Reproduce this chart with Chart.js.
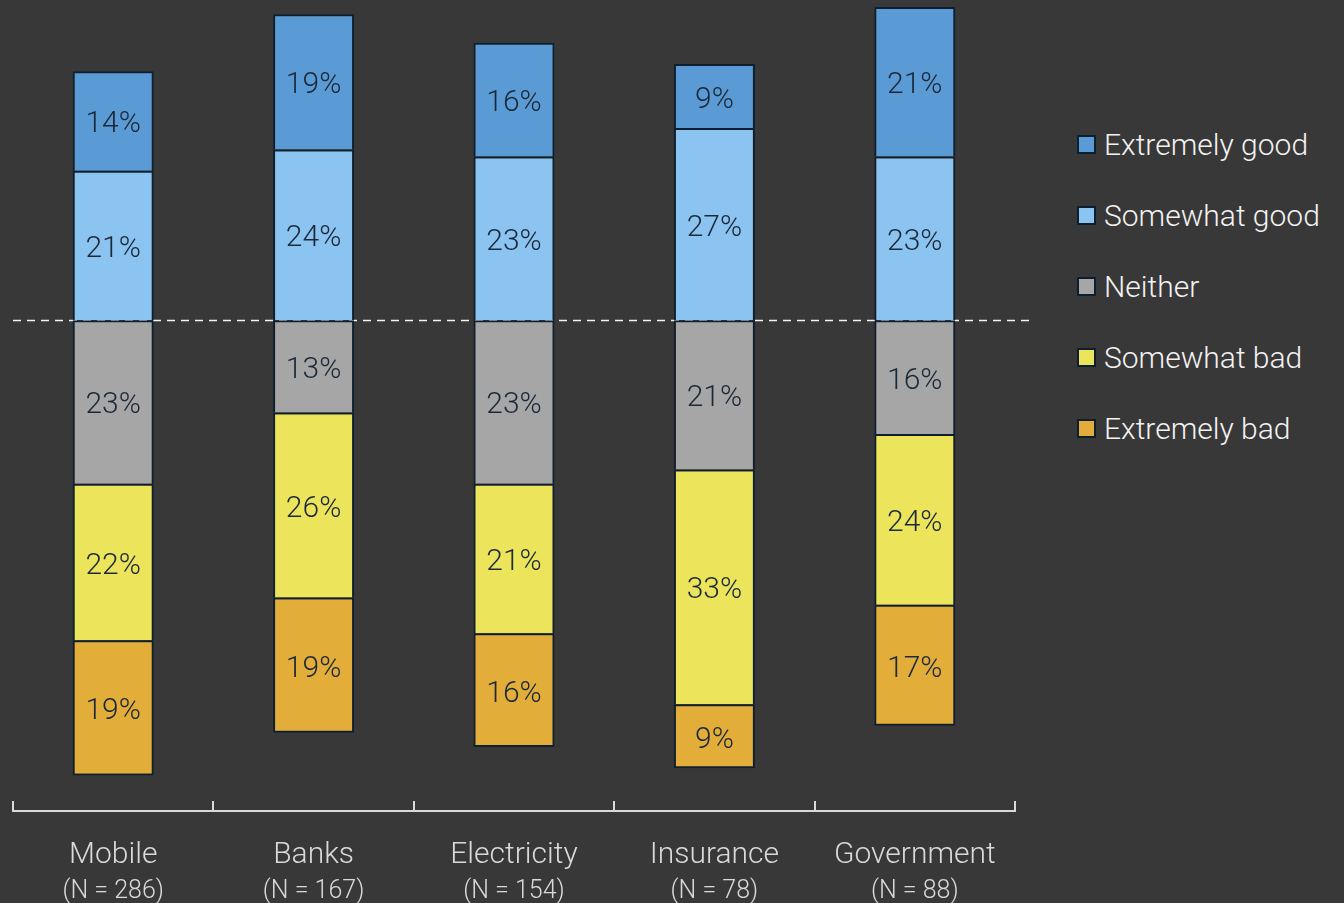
<!DOCTYPE html>
<html>
<head>
<meta charset="utf-8">
<script src="https://cdn.jsdelivr.net/npm/chart.js@4/dist/chart.umd.min.js"></script>
<style>
  html, body { margin: 0; padding: 0; background: #383838; }
  body { width: 1344px; height: 903px; position: relative; overflow: hidden; font-family: Roboto, "DejaVu Sans", sans-serif; }
  #wrap { position: absolute; left: 0; top: 0; width: 1040px; height: 903px; }
  #legend { position: absolute; left: 1077px; top: 126px; }
  .lg-item { display: flex; align-items: center; height: 36px; margin-bottom: 35px; color: #f2f2f2; font-size: 30px; font-weight: 300; white-space: nowrap; }
  .lg-box { width: 15px; height: 15px; border: 2px solid #0d1f2e; margin-right: 8px; }
</style>
</head>
<body>
<div id="wrap"><canvas id="chart"></canvas></div>
<div id="legend"></div>
<script>
// Categorias e tamanhos de amostra
const categories = ["Mobile", "Banks", "Electricity", "Insurance", "Government"];
const sampleSizes = [286, 167, 154, 78, 88];

// Percentuais por resposta (bons acima da linha, neutros e ruins abaixo)
const extremelyGood = [14, 19, 16, 9, 21];
const somewhatGood  = [21, 24, 23, 27, 23];
const neither       = [23, 13, 23, 21, 16];
const somewhatBad   = [22, 26, 21, 33, 24];
const extremelyBad  = [19, 19, 16, 9, 17];

const legendOrder = ["Extremely good", "Somewhat good", "Neither", "Somewhat bad", "Extremely bad"];

const COLORS = {
  "Extremely good": "#5b9bd5",
  "Somewhat good": "#8bc4f0",
  "Neither": "#a6a6a6",
  "Somewhat bad": "#ece55b",
  "Extremely bad": "#e3ad39"
};
const EDGE = "#0d1f2e";
const FONT = "Roboto, 'DejaVu Sans', sans-serif";

// bordas: só a de cima em cada segmento, a de baixo apenas no último
const bw = (bottom) => ({ top: 2, left: 2, right: 2, bottom: bottom ? 2 : 0 });

function ds(label, values, sign, bottom) {
  return {
    label,
    data: values.map(v => sign * v),
    backgroundColor: COLORS[label],
    borderColor: EDGE,
    borderWidth: bw(bottom),
    borderSkipped: false
  };
}

// ordem de empilhamento: mais perto do zero primeiro
const datasets = [
  ds("Somewhat good", somewhatGood, 1, false),
  ds("Extremely good", extremelyGood, 1, false),
  ds("Neither", neither, -1, false),
  ds("Somewhat bad", somewhatBad, -1, false),
  ds("Extremely bad", extremelyBad, -1, true)
];

// linha tracejada no zero, atrás das barras
const zeroLine = {
  id: "zeroLine",
  beforeDatasetsDraw(chart) {
    const { ctx, chartArea, scales: { y } } = chart;
    const yy = Math.round(y.getPixelForValue(0)) + 0.5;
    ctx.save();
    ctx.strokeStyle = "#f2f2f2";
    ctx.lineWidth = 1.5;
    ctx.setLineDash([8, 6]);
    ctx.beginPath();
    ctx.moveTo(chartArea.left, yy);
    ctx.lineTo(chartArea.right + 15, yy);
    ctx.stroke();
    ctx.restore();
  }
};

// rótulos de % no meio de cada segmento
const barLabels = {
  id: "barLabels",
  afterDatasetsDraw(chart) {
    const { ctx } = chart;
    ctx.save();
    ctx.fillStyle = "#1b2838";
    ctx.font = "300 30px " + FONT;
    ctx.textAlign = "center";
    ctx.textBaseline = "middle";
    chart.data.datasets.forEach((d, i) => {
      chart.getDatasetMeta(i).data.forEach((bar, j) => {
        const v = Math.abs(d.data[j]);
        const yc = (bar.y + bar.base) / 2;
        ctx.fillText(v + "%", bar.x, yc + 4);
      });
    });
    ctx.restore();
  }
};

// marcas do eixo x (para cima) e linha "(N = ...)"
const axisExtras = {
  id: "axisExtras",
  afterDraw(chart) {
    const { ctx, chartArea, scales: { x } } = chart;
    const n = categories.length;
    const step = (chartArea.right - chartArea.left) / n;
    ctx.save();
    ctx.strokeStyle = "#d9d9d9";
    ctx.lineWidth = 2;
    for (let i = 0; i <= n; i++) {
      const xx = Math.round(chartArea.left + i * step);
      ctx.beginPath();
      ctx.moveTo(xx, chartArea.bottom - 10);
      ctx.lineTo(xx, chartArea.bottom + 1);
      ctx.stroke();
    }
    ctx.fillStyle = "#d9d9d9";
    ctx.font = "300 25px " + FONT;
    ctx.textAlign = "center";
    ctx.textBaseline = "middle";
    sampleSizes.forEach((s, i) => {
      ctx.fillText("(N = " + s + ")", x.getPixelForValue(i), chartArea.bottom + 81);
    });
    ctx.restore();
  }
};

const chart = new Chart(document.getElementById("chart"), {
  type: "bar",
  data: { labels: categories, datasets },
  options: {
    responsive: true,
    maintainAspectRatio: false,
    animation: false,
    layout: { padding: { left: 13, right: 25, top: 0, bottom: 12 } },
    plugins: { legend: { display: false }, tooltip: { enabled: false } },
    datasets: { bar: { categoryPercentage: 1, barPercentage: 0.404 } },
    scales: {
      x: {
        stacked: true,
        grid: { display: false },
        border: { display: true, color: "#d9d9d9", width: 2 },
        ticks: { color: "#d9d9d9", padding: 18, font: { family: FONT, size: 30, weight: 300 } }
      },
      y: {
        stacked: true,
        display: false,
        min: -69,
        max: 45
      }
    }
  },
  plugins: [zeroLine, barLabels, axisExtras]
});

// legenda na ordem de leitura
const lg = document.getElementById("legend");
legendOrder.forEach(name => {
  const item = document.createElement("div");
  item.className = "lg-item";
  item.innerHTML = `<span class="lg-box" style="background:${COLORS[name]}"></span><span>${name}</span>`;
  lg.appendChild(item);
});
</script>
</body>
</html>
